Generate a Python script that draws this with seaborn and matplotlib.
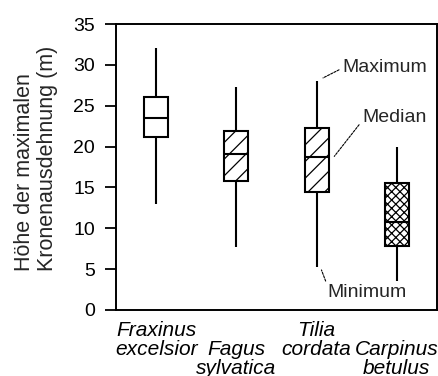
import matplotlib
matplotlib.use("Agg")
import matplotlib.pyplot as plt
import numpy as np
import pandas as pd
import seaborn as sns

# Five-number summaries of maximum crown extension height (m)
species = ["Fraxinus excelsior", "Fagus sylvatica", "Tilia cordata", "Carpinus betulus"]
tick_labels = ["Fraxinus\nexcelsior", "\nFagus\nsylvatica", "Tilia\ncordata", "\nCarpinus\nbetulus"]
minimum = [13.0, 7.7, 5.3, 3.5]
q1 = [21.2, 15.8, 14.4, 7.8]
median = [23.5, 19.1, 18.7, 10.8]
q3 = [26.1, 21.9, 22.3, 15.5]
maximum = [32.1, 27.3, 28.0, 20.0]
hatches = ["", "//", "//", "xxxx"]

# With exactly five values per species, the quartiles and the 0/100 percentiles
# reproduce the summary statistics exactly.
rows = []
for i, sp in enumerate(species):
    for v in (minimum[i], q1[i], median[i], q3[i], maximum[i]):
        rows.append({"species": sp, "height": v})
df = pd.DataFrame(rows)

sns.set_theme(style="ticks")
plt.rcParams["font.family"] = ["Liberation Sans", "DejaVu Sans"]
plt.rcParams["hatch.linewidth"] = 0.9

fig = plt.figure(figsize=(4.39, 3.76), dpi=100)
ax = fig.add_axes([116 / 439, 1 - 310 / 376, 321 / 439, 286 / 376])

sns.boxplot(
    data=df, x="species", y="height", order=species, ax=ax,
    whis=(0, 100), width=0.3, showcaps=False, fliersize=0,
    color="white", linecolor="black", linewidth=1.5,
    medianprops=dict(color="black", linewidth=1.5),
)

for patch, h in zip(ax.patches, hatches):
    patch.set_facecolor("white")
    patch.set_edgecolor("black")
    patch.set_hatch(h)

ax.set_ylim(0, 35)
ax.set_yticks(np.arange(0, 36, 5))
ax.set_xlim(-0.5, 3.5)
ax.set_xticks(range(len(species)))
ax.set_xticklabels(tick_labels, fontstyle="italic", fontsize=15, linespacing=1.0)
ax.set_xlabel("")
ax.set_ylabel("Höhe der maximalen\nKronenausdehnung (m)", fontsize=15.5,
              multialignment="left", linespacing=1.15)
ax.yaxis.set_label_coords(-0.18, 0.53)

ax.tick_params(axis="y", length=8, width=1.3, direction="out", labelsize=14,
               pad=7, colors="black")
ax.tick_params(axis="x", length=0, pad=8, colors="black")
for side in ("left", "right", "top", "bottom"):
    ax.spines[side].set_visible(True)
    ax.spines[side].set_linewidth(1.4)
    ax.spines[side].set_color("black")

leader = dict(arrowstyle="-", color="black", lw=0.8, linestyle=(0, (2, 1.2)),
              shrinkA=0, shrinkB=0)
ax.annotate("Maximum", xy=(2.08, 28.4), xytext=(2.32, 29.7), fontsize=14,
            ha="left", va="center", arrowprops=dict(leader, relpos=(0, 0.45)))
ax.annotate("Median", xy=(2.22, 18.8), xytext=(2.57, 23.6), fontsize=14,
            ha="left", va="center", arrowprops=dict(leader, relpos=(0, 0.3)))
ax.annotate("Minimum", xy=(2.06, 4.9), xytext=(2.14, 2.1), fontsize=14,
            ha="left", va="center", arrowprops=dict(leader, relpos=(0, 0.85)))

fig.savefig("out.png", dpi=100, facecolor="white")
